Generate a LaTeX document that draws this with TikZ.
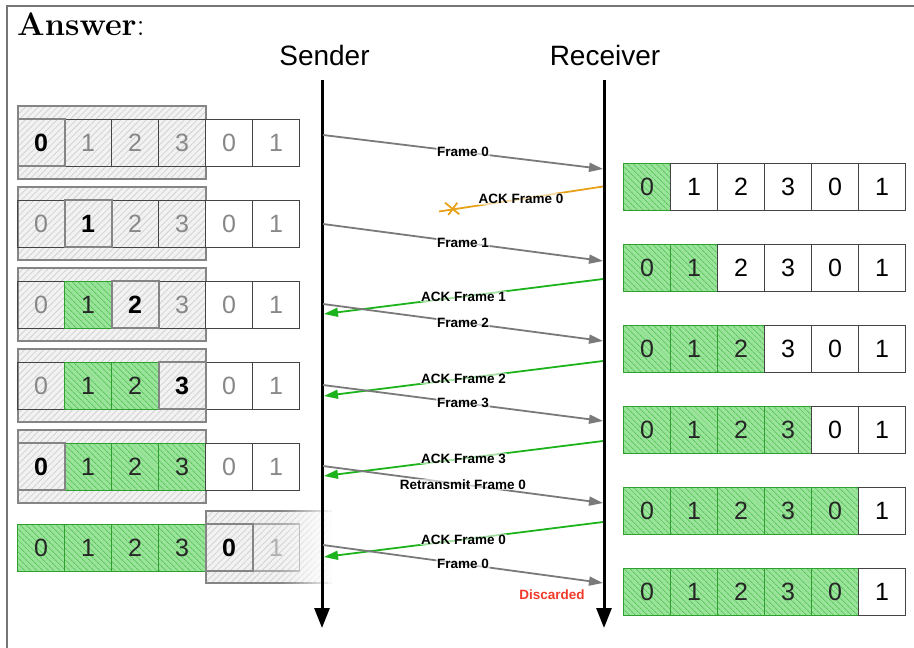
\documentclass[tikz,border=0pt]{standalone}
\usepackage{fontspec}
\newfontfamily\hv{Liberation Sans}
\usetikzlibrary{arrows.meta,patterns.meta}
\definecolor{framegray}{HTML}{767676}
\definecolor{arrowgray}{HTML}{7A7A7A}
\definecolor{ackgreen}{HTML}{1DB31D}
\definecolor{ackorange}{HTML}{E8A21A}
\definecolor{greenfill}{HTML}{9AE39A}
\definecolor{greenhatch}{HTML}{5EC85E}
\definecolor{greenborder}{HTML}{2F9F2F}
\definecolor{winfill}{HTML}{F2F2F2}
\definecolor{winhatch}{HTML}{D2D2D2}
\definecolor{wingray}{HTML}{858585}
\definecolor{celldark}{HTML}{444444}
\definecolor{celltext}{HTML}{888888}
\definecolor{fadegray}{HTML}{A8A8A8}
\definecolor{fadetext}{HTML}{B0B0B0}
\definecolor{discardred}{HTML}{F23A2A}
\newcommand\senderrow[4]{%
  \foreach \s [count=\c from 0] in {#3} {%
    \pgfmathtruncatemacro\d{mod(\c,4)}%
    \node[sc-\s] (s#1-\c) at (41+47*\c,#2) {\d};%
  }%
  \draw[wingray,line width=2pt] (s#1-#4.south west) rectangle (s#1-#4.north east);%
}
\newcommand\receiverrow[3]{%
  \foreach \c in {0,...,5} {%
    \pgfmathtruncatemacro\d{mod(\c,4)}%
    \ifnum\c<#3\relax\def\rsty{sc-g}\else\def\rsty{rc-w}\fi
    \node[\rsty] (r#1-\c) at (647+47*\c,#2) {\d};%
  }%
}
\begin{document}
\begin{tikzpicture}[x=1pt,y=-1pt,
  cellbase/.style={minimum size=47pt,inner sep=0pt,outer sep=0pt,font=\hv\fontsize{25}{25}\selectfont},
  sc-i/.style={cellbase,draw=celldark,line width=0.8pt,text=celltext},
  sc-o/.style={cellbase,draw=celldark,line width=0.8pt,fill=white,text=celltext},
  sc-g/.style={cellbase,draw=greenborder,line width=1pt,preaction={fill=greenfill},pattern={Lines[angle=-45,distance=4pt,line width=1pt]},pattern color=greenhatch,text=black!85},
  sc-c/.style={cellbase,draw=wingray,line width=2pt,text=black,font=\hv\bfseries\fontsize{25}{25}\selectfont},
  sc-f/.style={cellbase,draw=fadegray,line width=1.2pt,text=fadetext},
  rc-w/.style={cellbase,draw=celldark,line width=0.8pt,fill=white,text=black},
  win/.style={draw=wingray,line width=2pt,preaction={fill=winfill},pattern={Lines[angle=45,distance=4.5pt,line width=0.8pt]},pattern color=winhatch},
  msg/.style={arrowgray,line width=1.8pt,-{Triangle[length=14pt,width=9pt]}},
  ack/.style={ackgreen,line width=1.8pt,-{Triangle[length=14pt,width=9pt]}},
  lbl/.style={font=\hv\bfseries\fontsize{13.5}{14}\selectfont,text=black,fill=white,fill opacity=0.6,text opacity=1,inner sep=1pt},
  life/.style={black,line width=3pt,-{Triangle[length=20pt,width=15pt]}},
  ttl/.style={font=\hv\fontsize{28}{28}\selectfont,anchor=base,inner sep=0pt},
]
\useasboundingbox (0,0) rectangle (914,648);
% outer frame
\draw[framegray,line width=1.5pt] (7,660) -- (7,6) -- (920,6);
\node[anchor=base west,inner sep=0pt,font=\fontsize{32.5}{35}\selectfont] (ans) at (17,35) {\textbf{Answer}:};
\node[ttl] (sendt) at (324.5,65) {Sender};
\node[ttl] (recvt) at (605,65) {Receiver};

% sender windows
\foreach \t in {119,200,281,362,443} \path[win] (17.5,\t-13) rectangle (205.5,\t+60);
\path[win] (205.5,511) rectangle (345,583);

% sender cells
\senderrow{1}{142.5}{c,i,i,i,o,o}{0}
\senderrow{2}{223.5}{i,c,i,i,o,o}{1}
\senderrow{3}{304.5}{i,g,c,i,o,o}{2}
\senderrow{4}{385.5}{i,g,g,c,o,o}{3}
\senderrow{5}{466.5}{c,g,g,g,o,o}{0}
\senderrow{6}{547.5}{g,g,g,g,c,f}{4}

% fade of the last window (white strips of rising opacity)
\foreach \i in {0,...,13} {
  \pgfmathsetmacro\op{((\i+1)/14)^1.3}
  \fill[white,opacity=\op] (280+4*\i,507) rectangle (284+4*\i,588);
}
\fill[white] (336,507) rectangle (352,588);

% receiver cells
\receiverrow{1}{186.5}{1}
\receiverrow{2}{267.5}{2}
\receiverrow{3}{348.5}{3}
\receiverrow{4}{429.5}{4}
\receiverrow{5}{510.5}{5}
\receiverrow{6}{591.5}{5}

% lifelines
\coordinate (stop) at (322,80); \coordinate (sbot) at (322,628);
\coordinate (rtop) at (604,80); \coordinate (rbot) at (604,628);
\draw[life] (stop) -- (sbot);
\draw[life] (rtop) -- (rbot);

% messages
\coordinate (f0a) at (323,135); \coordinate (f0b) at (603,169);
\coordinate (a0a) at (603,186.5); \coordinate (a0b) at (439,211.5);
\coordinate (f1a) at (323,224); \coordinate (f1b) at (603,261);
\coordinate (a1a) at (603,279); \coordinate (a1b) at (324,314);
\coordinate (f2a) at (323,304); \coordinate (f2b) at (603,341);
\coordinate (a2a) at (603,361); \coordinate (a2b) at (324,396);
\coordinate (f3a) at (323,385); \coordinate (f3b) at (603,421);
\coordinate (a3a) at (603,441); \coordinate (a3b) at (324,476);
\coordinate (rfa) at (323,466); \coordinate (rfb) at (603,503);
\coordinate (a4a) at (603,522); \coordinate (a4b) at (324,557);
\coordinate (f4a) at (323,545); \coordinate (f4b) at (603,583);
\coordinate (lost) at (452,209);

\draw[msg] (f0a) -- node[lbl] (lf0) {Frame 0} (f0b);
\draw[ackorange,line width=1.8pt] (a0a) -- node[lbl] (la0) {ACK Frame 0} (a0b);
\draw[ackorange,line width=1.8pt] (lost) ++(-7,-6.3) -- ++(14.3,11.6);
\draw[ackorange,line width=1.8pt] (lost) ++(-3.7,6) -- ++(9,-12.3);
\draw[msg] (f1a) -- node[lbl] (lf1) {Frame 1} (f1b);
\draw[ack] (a1a) -- node[lbl] (la1) {ACK Frame 1} (a1b);
\draw[msg] (f2a) -- node[lbl] (lf2) {Frame 2} (f2b);
\draw[ack] (a2a) -- node[lbl] (la2) {ACK Frame 2} (a2b);
\draw[msg] (f3a) -- node[lbl] (lf3) {Frame 3} (f3b);
\draw[ack] (a3a) -- node[lbl] (la3) {ACK Frame 3} (a3b);
\draw[msg] (rfa) -- node[lbl] (lrf) {Retransmit Frame 0} (rfb);
\draw[ack] (a4a) -- node[lbl] (la4) {ACK Frame 0} (a4b);
\draw[msg] (f4a) -- node[lbl] (lf4) {Frame 0} (f4b);
\node[font=\hv\bfseries\fontsize{13.5}{14}\selectfont,text=discardred] (disc) at (552,595) {Discarded};
\end{tikzpicture}
\end{document}
